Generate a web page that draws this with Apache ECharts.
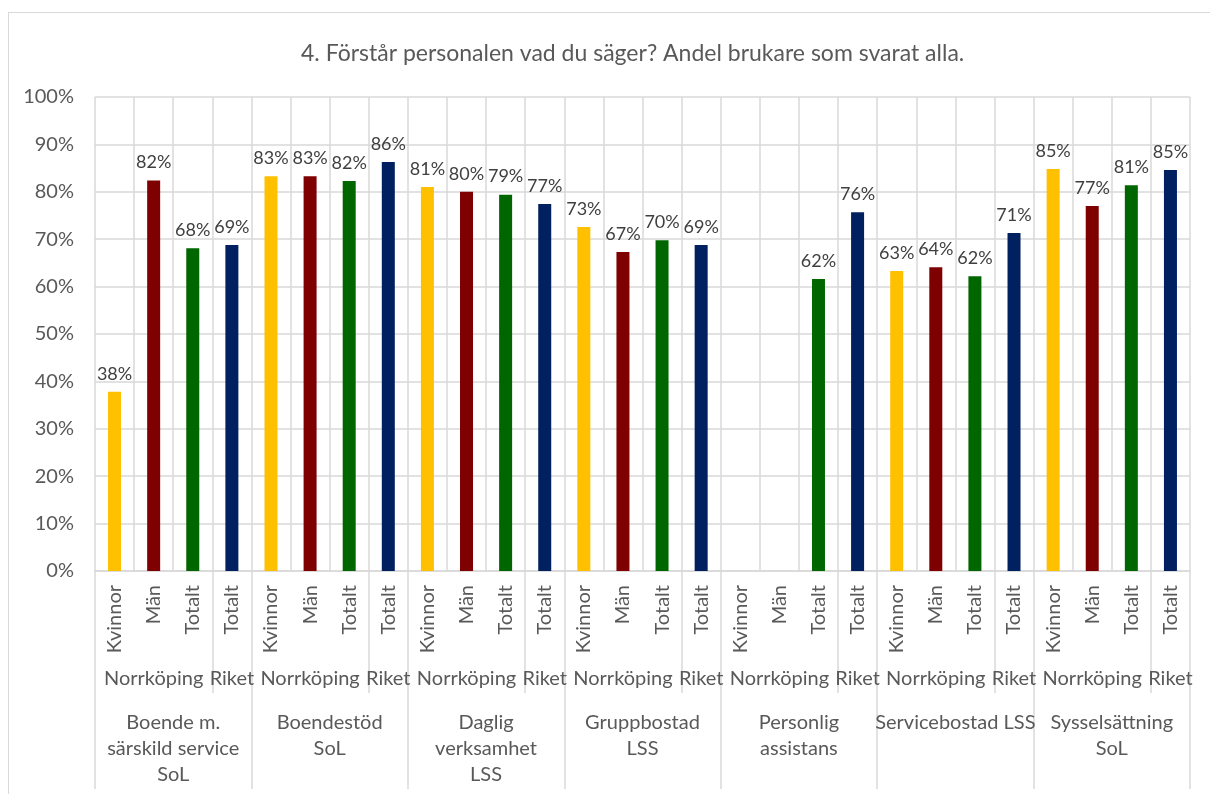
<!DOCTYPE html>
<html>
<head>
<meta charset="utf-8">
<script src="https://cdn.jsdelivr.net/npm/echarts@6/dist/echarts.min.js"></script>
<style>
  html, body { margin: 0; padding: 0; background: #ffffff; }
  #chart { position: absolute; left: 0; top: 0; width: 1210px; height: 794px; }
  #frame { position: absolute; left: 8px; top: 12px; width: 1220px; height: 800px; border: 1px solid #d9d9d9; box-sizing: border-box; }
</style>
</head>
<body>
<div id="frame"></div>
<div id="chart"></div>
<script>
const groups = [
  'Boende m.\nsärskild service\nSoL',
  'Boendestöd\nSoL',
  'Daglig\nverksamhet\nLSS',
  'Gruppbostad\nLSS',
  'Personlig\nassistans',
  'Servicebostad LSS',
  'Sysselsättning\nSoL'
];
const subLabels = ['Kvinnor', 'Män', 'Totalt', 'Totalt'];
const areaLabels = ['', 'Norrköping', '', 'Riket'];

// values per group (percent)
const kvinnor = [37.8, 83.3, 81.0, 72.6, null, 63.3, 84.8];
const man = [82.4, 83.3, 80.0, 67.3, null, 64.1, 77.0];
const totaltNorrkoping = [68.1, 82.3, 79.4, 69.8, 61.6, 62.2, 81.4];
const totaltRiket = [68.8, 86.3, 77.4, 68.8, 75.7, 71.3, 84.6];

const seriesDefinitions = [
  { name: 'Kvinnor', values: kvinnor, slot: 0, color: '#ffc000' },
  { name: 'Män', values: man, slot: 1, color: '#7f0000' },
  { name: 'Totalt Norrköping', values: totaltNorrkoping, slot: 2, color: '#006600' },
  { name: 'Totalt Riket', values: totaltRiket, slot: 3, color: '#002060' }
];

const textColor = '#595959';
const gridColor = '#d9d9d9';
const fontFamily = 'Lato, sans-serif';
const axisFontSize = 20;

const categories = groups.flatMap((g, gi) => subLabels.map((s, si) => gi + '-' + si));
const level1 = groups.flatMap(() => subLabels);
const level2 = groups.flatMap(() => areaLabels);

const chart = echarts.init(document.getElementById('chart'), null, { renderer: 'canvas' });

chart.setOption({
  animation: false,
  textStyle: { fontFamily: fontFamily },
  title: {
    text: '4. Förstår personalen vad du säger? Andel brukare som svarat alla.',
    left: 296,
    top: 37,
    textStyle: { color: textColor, fontSize: 23, fontWeight: 'normal', fontFamily: fontFamily }
  },
  grid: { left: 95, right: 20, top: 97, bottom: 223 },
  xAxis: [
    {
      type: 'category',
      data: categories,
      position: 'bottom',
      axisLine: { show: true, lineStyle: { color: gridColor, width: 1.5 } },
      axisTick: { show: false },
      splitLine: { show: true, interval: 0, lineStyle: { color: gridColor, width: 1.5 } },
      axisLabel: {
        interval: 0,
        rotate: 90,
        margin: 14,
        color: textColor,
        fontSize: axisFontSize,
        fontFamily: fontFamily,
        formatter: (value, index) => level1[index]
      }
    },
    {
      type: 'category',
      data: categories,
      position: 'bottom',
      axisLine: { show: false },
      axisTick: {
        show: true,
        interval: index => index % 4 === 3,
        length: 122,
        lineStyle: { color: gridColor, width: 1.5 }
      },
      axisLabel: {
        interval: 0,
        margin: 98,
        color: textColor,
        fontSize: axisFontSize,
        fontFamily: fontFamily,
        formatter: (value, index) => level2[index]
      }
    },
    {
      type: 'category',
      data: groups,
      position: 'bottom',
      axisLine: { show: false },
      axisTick: {
        show: true,
        interval: 0,
        length: 218,
        lineStyle: { color: gridColor, width: 1.5 }
      },
      axisLabel: {
        interval: 0,
        margin: 139,
        color: textColor,
        fontSize: axisFontSize,
        lineHeight: 26,
        fontFamily: fontFamily
      }
    }
  ],
  yAxis: {
    type: 'value',
    min: 0,
    max: 100,
    interval: 10,
    axisLine: { show: false },
    axisTick: { show: false },
    splitLine: { show: true, lineStyle: { color: gridColor, width: 1.5 } },
    axisLabel: {
      margin: 21,
      color: textColor,
      fontSize: axisFontSize,
      fontFamily: fontFamily,
      formatter: '{value}%'
    }
  },
  series: seriesDefinitions.map(definition => ({
    name: definition.name,
    type: 'bar',
    stack: 'all',
    xAxisIndex: 0,
    barWidth: 13,
    itemStyle: { color: definition.color },
    label: {
      show: true,
      position: 'top',
      distance: 9,
      color: '#404040',
      fontSize: 18,
      fontFamily: fontFamily,
      formatter: parameters => Math.round(parameters.value) + '%'
    },
    data: categories.map((c, i) =>
      i % 4 === definition.slot ? definition.values[Math.floor(i / 4)] : null
    )
  }))
});
</script>
</body>
</html>
